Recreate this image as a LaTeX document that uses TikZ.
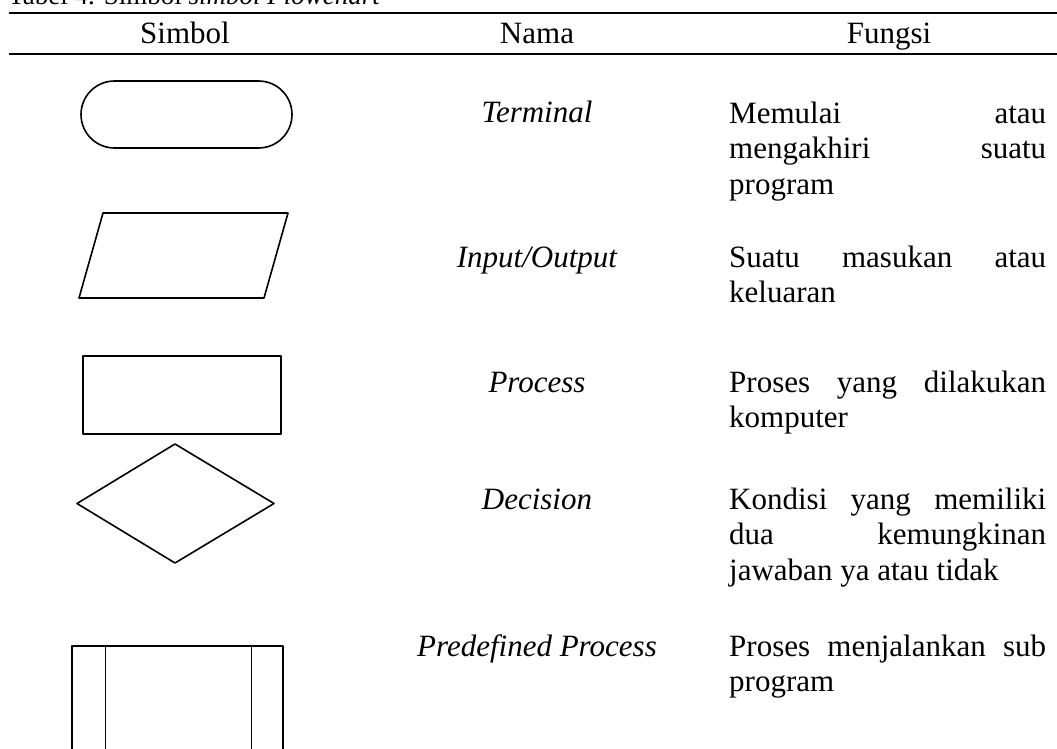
\documentclass[tikz,border=0pt]{standalone}
\usepackage{fontspec}
\setmainfont{Liberation Serif}
\newcommand{\jline}[1]{\makebox[317pt][s]{#1}}
\begin{document}
\begin{tikzpicture}[line cap=round,line join=round,x=1pt,y=-1pt,
	rule/.style={line width=2pt,line cap=butt},
	sym/.style={line width=1.6pt},
	txt/.style={inner sep=0pt,font=\fontsize{31}{35.5}\selectfont},
	nama/.style={txt,anchor=base,font=\fontsize{31}{35.5}\selectfont\itshape},
	fungsi/.style={txt,anchor=base west,align=left}]
		\useasboundingbox (0,0) rectangle (1057,749);
		\clip (0,0) rectangle (1057,749);
		% caption
		\draw (8,5) node[inner sep=0pt,anchor=base west,font=\fontsize{27}{30}\selectfont] (cap) {Tabel 4. Simbol \textit{simbol Flowchart}};
		% table rules
		\draw [rule] (9,13)-- (1057,13);
		\draw [rule] (9,54)-- (1057,54);
		\draw (185,44) node[txt,anchor=base] (hsimbol) {Simbol};
		\draw (537,44) node[txt,anchor=base] (hnama) {Nama};
		\draw (889,44) node[txt,anchor=base] (hfungsi) {Fungsi};
		% symbols
		\draw [sym,rounded corners=33.5pt] (81,81) rectangle (292,148);
		\draw [sym] (103,213)-- (288,213)-- (264,298)-- (79,298)-- cycle;
		\draw [sym] (83,356) rectangle (281,434);
		\draw [sym] (175,444)-- (274,503.5)-- (175,563)-- (77,503.5)-- cycle;
		\draw [sym] (72,800)-- (72,646)-- (283,646)-- (283,800);
		\draw [line width=1pt] (105,646)-- (105,800);
		\draw [line width=1pt] (251,646)-- (251,800);
		% nama
		\draw (537,123) node[nama] (nterm) {Terminal};
		\draw (537,267) node[nama] (nio) {Input/Output};
		\draw (537,392) node[nama] (nproc) {Process};
		\draw (537,509) node[nama] (ndec) {Decision};
		\draw (537,656) node[nama] (npre) {Predefined Process};
		% fungsi (anchored at the last line)
		\draw (729,194) node[fungsi] (fterm) {\jline{Memulai atau}\\\jline{mengakhiri suatu}\\program};
		\draw (729,302.5) node[fungsi] (fio) {\jline{Suatu masukan atau}\\keluaran};
		\draw (729,427.5) node[fungsi] (fproc) {\jline{Proses yang dilakukan}\\komputer};
		\draw (729,580) node[fungsi] (fdec) {\jline{Kondisi yang memiliki}\\\jline{dua kemungkinan}\\jawaban ya atau tidak};
		\draw (729,691.5) node[fungsi] (fpre) {\jline{Proses menjalankan sub}\\program};
\end{tikzpicture}
\end{document}
